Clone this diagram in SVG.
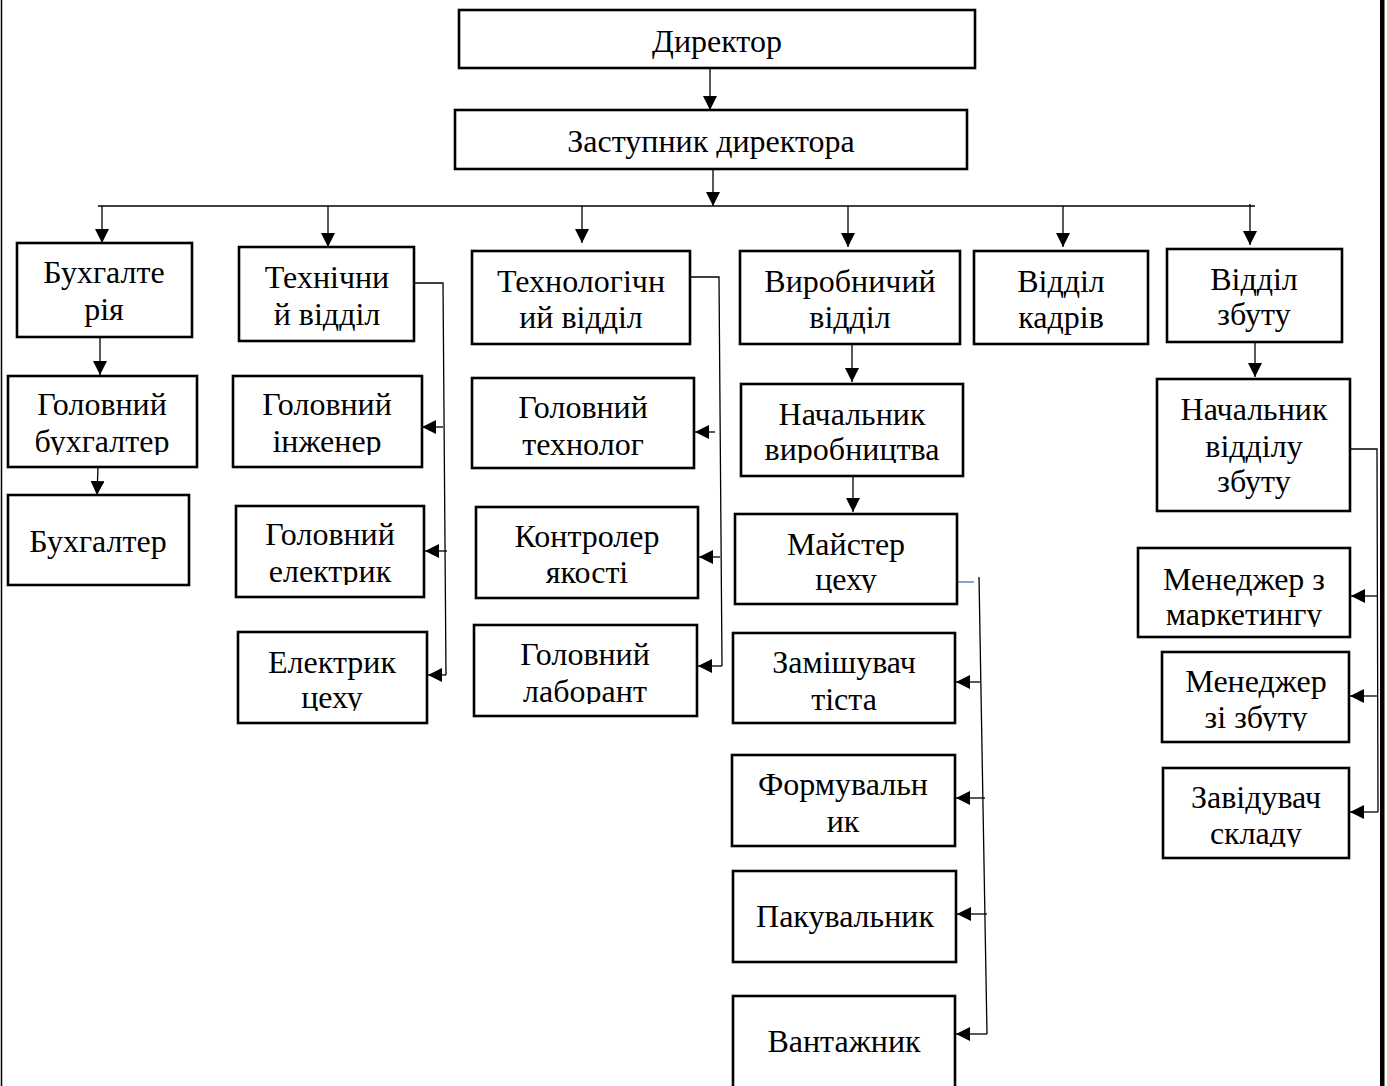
<svg xmlns="http://www.w3.org/2000/svg" width="1387" height="1086" viewBox="0 0 1387 1086">
<style>
.box{fill:#fff;stroke:#000;stroke-width:2.6}
.t{font-family:"Liberation Serif","Times New Roman",serif;font-size:32px;fill:#000;text-anchor:middle}
.c{fill:none;stroke:#000;stroke-width:1.3}
.a{fill:none;stroke:#000;stroke-width:1.3;marker-end:url(#ah)}
</style>
<defs>
<marker id="ah" viewBox="0 0 14 14" markerUnits="userSpaceOnUse" markerWidth="14" markerHeight="14" refX="14" refY="7" orient="auto">
<path d="M0,0 L14,7 L0,14 Z" fill="#000"/>
</marker>
<clipPath id="k9"><rect x="8" y="376" width="189" height="79"/></clipPath>
<clipPath id="k11"><rect x="233" y="376" width="189" height="79"/></clipPath>
<clipPath id="k12"><rect x="236" y="506" width="188" height="79"/></clipPath>
<clipPath id="k13"><rect x="238" y="632" width="189" height="79"/></clipPath>
<clipPath id="k14"><rect x="472" y="378" width="222" height="79"/></clipPath>
<clipPath id="k16"><rect x="474" y="625" width="223" height="79"/></clipPath>
<clipPath id="k17"><rect x="741" y="384" width="222" height="79"/></clipPath>
<clipPath id="k18"><rect x="735" y="514" width="222" height="79"/></clipPath>
<clipPath id="k24"><rect x="1138" y="548" width="212" height="79"/></clipPath>
<clipPath id="k25"><rect x="1162" y="652" width="187" height="79"/></clipPath>
<clipPath id="k26"><rect x="1163" y="768" width="186" height="79"/></clipPath>
</defs>
<rect x="0" y="0" width="1387" height="1086" fill="#fff"/>
<line x1="1.5" y1="0" x2="1.5" y2="1086" stroke="#000" stroke-width="1.5"/>
<rect x="1380" y="0" width="4.5" height="1086" fill="#000"/>

<g id="connectors">
<line class="a" x1="710" y1="68" x2="710" y2="110"/>
<line class="a" x1="713" y1="169" x2="713" y2="206"/>
<line class="c" x1="98" y1="206" x2="1255" y2="206"/>
<line class="a" x1="102" y1="206" x2="102" y2="243"/>
<line class="a" x1="328" y1="206" x2="328" y2="247"/>
<line class="a" x1="582" y1="206" x2="582" y2="243"/>
<line class="a" x1="848" y1="206" x2="848" y2="247"/>
<line class="a" x1="1063" y1="206" x2="1063" y2="247"/>
<line class="a" x1="1250" y1="204" x2="1250" y2="245"/>
<line class="a" x1="100" y1="337" x2="100" y2="375"/>
<line class="a" x1="98" y1="467" x2="97" y2="495"/>
<polyline class="c" points="414,283 443,283 446,675"/>
<line class="a" x1="443" y1="427" x2="422" y2="427"/>
<line class="a" x1="447" y1="551" x2="425" y2="551"/>
<line class="a" x1="446" y1="675" x2="428" y2="675"/>
<polyline class="c" points="690,277 719,277 722,666"/>
<line class="a" x1="715" y1="432" x2="695" y2="432"/>
<line class="a" x1="720" y1="557" x2="699" y2="557"/>
<line class="a" x1="722" y1="666" x2="698" y2="666"/>
<line class="a" x1="852" y1="344" x2="852" y2="382"/>
<line class="a" x1="853" y1="476" x2="853" y2="512"/>
<line x1="958" y1="582" x2="974" y2="582" stroke="#4472C4" stroke-width="1.3"/>
<line class="c" x1="979" y1="577" x2="987" y2="1034"/>
<line class="a" x1="980" y1="682" x2="956" y2="682"/>
<line class="a" x1="985" y1="798" x2="956" y2="798"/>
<line class="a" x1="987" y1="914" x2="957" y2="914"/>
<line class="a" x1="987" y1="1034" x2="956" y2="1034"/>
<line class="a" x1="1255" y1="342" x2="1255" y2="377"/>
<polyline class="c" points="1350,449 1377,449 1378,812"/>
<line class="a" x1="1378" y1="596" x2="1351" y2="596"/>
<line class="a" x1="1378" y1="696" x2="1350" y2="696"/>
<line class="a" x1="1378" y1="812" x2="1350" y2="812"/>
</g>

<g id="n1"><rect class="box" x="459" y="10" width="516" height="58"/><text class="t" x="717" y="52">Директор</text></g>
<g id="n2"><rect class="box" x="455" y="110" width="512" height="59"/><text class="t" x="711" y="152">Заступник директора</text></g>
<g id="n3"><rect class="box" x="17" y="243" width="175" height="94"/><text class="t" x="104" y="283">Бухгалте</text><text class="t" x="104" y="320">рія</text></g>
<g id="n4"><rect class="box" x="239" y="247" width="175" height="94"/><text class="t" x="327" y="288">Технічни</text><text class="t" x="327" y="325">й відділ</text></g>
<g id="n5"><rect class="box" x="472" y="251" width="218" height="93"/><text class="t" x="581" y="292">Технологічн</text><text class="t" x="581" y="328">ий відділ</text></g>
<g id="n6"><rect class="box" x="740" y="251" width="220" height="93"/><text class="t" x="850" y="292">Виробничий</text><text class="t" x="850" y="328">відділ</text></g>
<g id="n7"><rect class="box" x="974" y="251" width="174" height="93"/><text class="t" x="1061" y="292">Відділ</text><text class="t" x="1061" y="328">кадрів</text></g>
<g id="n8"><rect class="box" x="1167" y="249" width="175" height="93"/><text class="t" x="1254" y="290">Відділ</text><text class="t" x="1254" y="325">збуту</text></g>
<g id="n9"><rect class="box" x="8" y="376" width="189" height="91"/><g clip-path="url(#k9)"><text class="t" x="102" y="415">Головний</text><text class="t" x="102" y="452">бухгалтер</text></g></g>
<g id="n10"><rect class="box" x="8" y="495" width="181" height="90"/><text class="t" x="98" y="552">Бухгалтер</text></g>
<g id="n11"><rect class="box" x="233" y="376" width="189" height="91"/><g clip-path="url(#k11)"><text class="t" x="327" y="415">Головний</text><text class="t" x="327" y="452">інженер</text></g></g>
<g id="n12"><rect class="box" x="236" y="506" width="188" height="91"/><g clip-path="url(#k12)"><text class="t" x="330" y="545">Головний</text><text class="t" x="330" y="582">електрик</text></g></g>
<g id="n13"><rect class="box" x="238" y="632" width="189" height="91"/><g clip-path="url(#k13)"><text class="t" x="332" y="673">Електрик</text><text class="t" x="332" y="708">цеху</text></g></g>
<g id="n14"><rect class="box" x="472" y="378" width="222" height="90"/><g clip-path="url(#k14)"><text class="t" x="583" y="418">Головний</text><text class="t" x="583" y="455">технолог</text></g></g>
<g id="n15"><rect class="box" x="476" y="507" width="222" height="91"/><text class="t" x="587" y="547">Контролер</text><text class="t" x="587" y="583">якості</text></g>
<g id="n16"><rect class="box" x="474" y="625" width="223" height="91"/><g clip-path="url(#k16)"><text class="t" x="585" y="665">Головний</text><text class="t" x="585" y="702">лаборант</text></g></g>
<g id="n17"><rect class="box" x="741" y="384" width="222" height="92"/><g clip-path="url(#k17)"><text class="t" x="852" y="425">Начальник</text><text class="t" x="852" y="460">виробництва</text></g></g>
<g id="n18"><rect class="box" x="735" y="514" width="222" height="90"/><g clip-path="url(#k18)"><text class="t" x="846" y="555">Майстер</text><text class="t" x="846" y="590">цеху</text></g></g>
<g id="n19"><rect class="box" x="733" y="633" width="222" height="90"/><text class="t" x="844" y="673">Замішувач</text><text class="t" x="844" y="710">тіста</text></g>
<g id="n20"><rect class="box" x="732" y="755" width="223" height="91"/><text class="t" x="843" y="795">Формувальн</text><text class="t" x="843" y="832">ик</text></g>
<g id="n21"><rect class="box" x="733" y="871" width="223" height="91"/><text class="t" x="845" y="927">Пакувальник</text></g>
<g id="n22"><rect class="box" x="733" y="996" width="222" height="100"/><text class="t" x="844" y="1052">Вантажник</text></g>
<g id="n23"><rect class="box" x="1157" y="379" width="193" height="132"/><text class="t" x="1254" y="420">Начальник</text><text class="t" x="1254" y="457">відділу</text><text class="t" x="1254" y="492">збуту</text></g>
<g id="n24"><rect class="box" x="1138" y="548" width="212" height="89"/><g clip-path="url(#k24)"><text class="t" x="1244" y="590">Менеджер з</text><text class="t" x="1244" y="625">маркетингу</text></g></g>
<g id="n25"><rect class="box" x="1162" y="652" width="187" height="90"/><g clip-path="url(#k25)"><text class="t" x="1256" y="692">Менеджер</text><text class="t" x="1256" y="728">зі збуту</text></g></g>
<g id="n26"><rect class="box" x="1163" y="768" width="186" height="90"/><g clip-path="url(#k26)"><text class="t" x="1256" y="808">Завідувач</text><text class="t" x="1256" y="844">складу</text></g></g>
</svg>
